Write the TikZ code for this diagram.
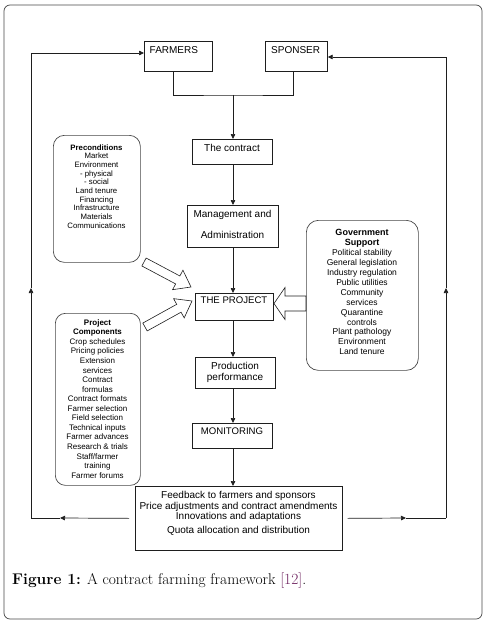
\documentclass[tikz,border=0pt]{standalone}
\usepackage{fontspec}
\newfontfamily\arial{Liberation Sans}
\usetikzlibrary{arrows.meta,calc}
\definecolor{refcol}{RGB}{110,35,95}
\definecolor{framecol}{RGB}{70,70,70}
\definecolor{linecol}{RGB}{30,30,30}
\newcommand\blockarrow[5]{%
  \coordinate (bac) at ($(#2)!#5!(#1)$);
  \draw[barrow] ($(#1)!#3!90:(#2)$) -- ($(bac)!#3!-90:(#1)$) -- ($(bac)!#4!-90:(#1)$) -- (#2)
     -- ($(bac)!#4!90:(#1)$) -- ($(bac)!#3!90:(#1)$) -- ($(#1)!#3!-90:(#2)$) -- cycle;}
\tikzset{
  box/.style={draw=linecol, line width=0.7pt, rectangle, inner sep=0pt, anchor=north west},
  rbox/.style={draw=framecol, line width=0.7pt, rectangle, rounded corners=11pt, inner sep=0pt, anchor=north west},
  txt/.style={inner sep=0pt, font=\arial\fontsize{10}{12}\selectfont},
  small/.style={inner sep=0pt, align=center, anchor=north},
  line/.style={draw=linecol, line width=0.7pt},
  arr/.style={line, -{Triangle[length=5pt,width=4.5pt]}},
  barrow/.style={draw=linecol, fill=white, line width=0.6pt, line join=miter},
}
\begin{document}
\begin{tikzpicture}[x=1pt, y=-1pt]
\useasboundingbox (0,0) rectangle (485,623);
\draw[draw=framecol, line width=0.7pt, rounded corners=6pt] (4,5) rectangle (482,619);

% main boxes
\node[box, minimum width=68pt, minimum height=30pt] (farmers) at (144,41) {};
\node[txt, anchor=base west] (farmerst) at (149.5,53.5) {FARMERS};
\node[box, minimum width=62pt, minimum height=30pt] (sponser) at (265,41) {};
\node[txt, anchor=base west] (sponsert) at (271,53.5) {SPONSER};
\node[box, minimum width=80pt, minimum height=25pt] (contract) at (192,139) {};
\node[txt, anchor=base] (contractt) at (232,151.5) {The contract};
\node[box, minimum width=91pt, minimum height=42pt] (mgmt) at (187,205) {};
\node[txt, anchor=base] (mgmt1) at (232.5,217.5) {Management and};
\node[txt, anchor=base] (mgmt2) at (232.5,238.5) {Administration};
\node[box, minimum width=78pt, minimum height=27pt] (project) at (195,293) {};
\node[txt, anchor=base, font=\arial\fontsize{9.6}{12}\selectfont] (projectt) at (234,303.5) {THE PROJECT};
\node[box, minimum width=80pt, minimum height=31pt] (prod) at (195,357) {};
\node[txt, anchor=base] (prod1) at (235,369.5) {Production};
\node[txt, anchor=base] (prod2) at (235,380.5) {performance};
\node[box, minimum width=80pt, minimum height=25pt] (monitor) at (192,423) {};
\node[txt, anchor=base, font=\arial\fontsize{9.6}{12}\selectfont] (monitort) at (232,434.5) {MONITORING};
\node[box, minimum width=207pt, minimum height=64pt] (feedback) at (135,486) {};
\node[txt, small, font=\arial\fontsize{10}{10.5}\selectfont] (feedbackt) at (238.5,491.3)
  {Feedback to farmers and sponsors\\Price adjustments and contract amendments\\Innovations and adaptations\\[3.5pt]Quota allocation and distribution};

% rounded side boxes
\node[rbox, minimum width=87pt, minimum height=127pt] (precond) at (53,135) {};
\node[small, font=\arial\fontsize{7.8}{8.67}\selectfont] (precondt) at (96.5,144.4)
  {\textbf{Preconditions}\\Market\\Environment\\- physical\\- social\\Land tenure\\Financing\\Infrastructure\\Materials\\Communications};
\node[rbox, rounded corners=10pt, minimum width=85pt, minimum height=172pt] (comp) at (55,313) {};
\node[small, font=\arial\fontsize{8}{9.56}\selectfont] (compt) at (97.5,319.2)
  {\textbf{Project}\\\textbf{Components}\\Crop schedules\\Pricing policies\\Extension\\services\\Contract\\formulas\\Contract formats\\Farmer selection\\Field selection\\Technical inputs\\Farmer advances\\Research \& trials\\Staff/farmer\\training\\Farmer forums};
\node[rbox, rounded corners=12pt, minimum width=112pt, minimum height=150pt] (gov) at (306,220) {};
\node[small, font=\arial\fontsize{8.5}{9.9}\selectfont] (govt) at (362,229.5)
  {{\fontsize{9}{9.9}\selectfont\bfseries Government}\\{\fontsize{9}{9.9}\selectfont\bfseries Support}\\Political stability\\General legislation\\Industry regulation\\Public utilities\\Community\\services\\Quarantine\\controls\\Plant pathology\\Environment\\Land tenure};

% connectors
\coordinate (col) at (233,0);
\coordinate (j) at (233,95);
\draw[line] ([xshift=-5pt]farmers.south) |- (j) -| ([xshift=-3pt]sponser.south);
\draw[arr] (j) -- (j |- contract.north);
\draw[arr] (contract.south -| col) -- (mgmt.north -| col);
\draw[arr] (mgmt.south -| col) -- (project.north -| col);
\draw[arr] (project.south -| col) -- (prod.north -| col);
\draw[arr] (prod.south -| col) -- (monitor.north -| col);
\draw[arr] (monitor.south -| col) -- (feedback.north -| col);

% feedback loops
\coordinate (lb) at (31,518);
\coordinate (lt) at (31,53);
\coordinate (lm) at (60,518);
\coordinate (lv) at (31,288);
\coordinate (rb) at (446,518);
\coordinate (rt) at (446,57);
\coordinate (rm) at (406,518);
\coordinate (rv) at (446,288);
\draw[arr] ([xshift=-6pt]feedback.west) -- (lm);
\draw[line] (lm) -- (lb);
\draw[arr] (lb) -- (lv);
\draw[arr] (lv) -- (lt) -- (lt -| farmers.west);
\draw[arr] ([xshift=5pt]feedback.east) -- (rm);
\draw[line] (rm) -- (rb);
\draw[arr] (rb) -- (rv);
\draw[arr] (rv) -- (rt) -- (rt -| sponser.east);

% block arrows
\coordinate (pa1) at (144,262);
\coordinate (pa2) at (191,287);
\coordinate (ca1) at (145,327);
\coordinate (ca2) at (192,301);
\coordinate (ga1) at (306,303.5);
\coordinate (ga2) at (274,303.5);
\blockarrow{pa1}{pa2}{4.5pt}{11pt}{15pt}
\blockarrow{ca1}{ca2}{4.5pt}{11pt}{15pt}
\blockarrow{ga1}{ga2}{7.5pt}{16pt}{11pt}

% caption
\node[anchor=base west, inner sep=0pt, font=\fontsize{15.5}{18}\selectfont] (caption) at (12,584)
  {\textbf{Figure 1:} A contract farming framework {\color{refcol}[12]}.};
\end{tikzpicture}
\end{document}
